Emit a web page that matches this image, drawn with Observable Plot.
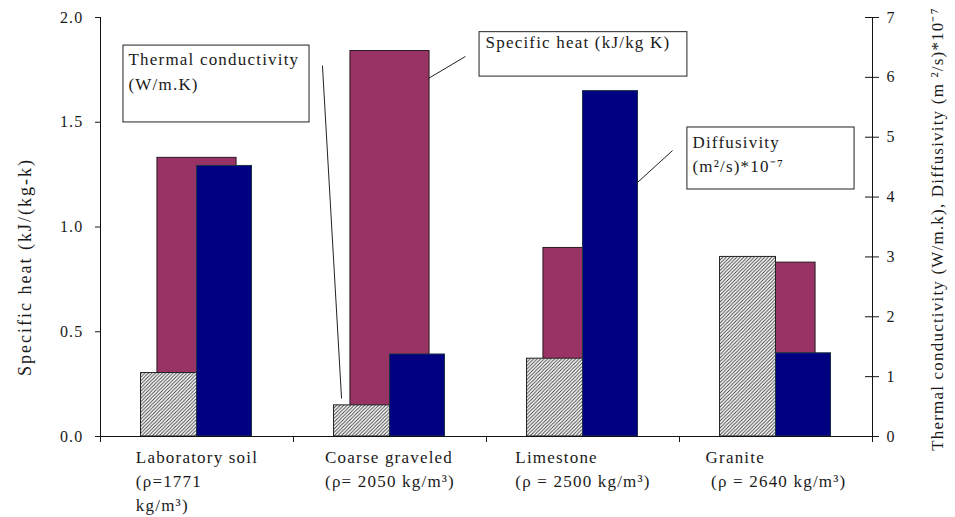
<!DOCTYPE html>
<html><head><meta charset="utf-8">
<script src="https://cdn.jsdelivr.net/npm/d3@7"></script>
<script src="https://cdn.jsdelivr.net/npm/@observablehq/plot@0.6"></script>
<style>
html,body{margin:0;padding:0;background:#fff;}
</style>
</head><body><div id="chart"></div>
<script>
// ---- data ----
const categories = ["Laboratory soil", "Coarse graveled", "Limestone", "Granite"];
const categoryLabels = [
  "Laboratory soil\n(ρ=1771\nkg/m³)",
  "Coarse graveled\n(ρ= 2050 kg/m³)",
  "Limestone\n(ρ = 2500 kg/m³)",
  "Granite\n (ρ = 2640 kg/m³)"
];
const specificHeat = [1.33, 1.84, 0.90, 0.83];   // kJ/(kg K), left axis
const conductivity = [1.06, 0.52, 1.30, 3.00];   // W/m.K, right axis
const diffusivity  = [4.52, 1.37, 5.77, 1.39];   // (m²/s)*10^-7, right axis
const leftTicks  = [0, 0.5, 1.0, 1.5, 2.0];
const rightTicks = [0, 1, 2, 3, 4, 5, 6, 7];
const leftMax = 2, rightMax = 7;
const leftTitle = "Specific heat (kJ/(kg-k)";
const rightTitle = "Thermal conductivity (W/m.k), Diffusivity (m ²/s)*10⁻⁷";

// ---- layout ----
const W = 955, H = 517, mL = 100, mR = 83, mT = 17, mB = 81;
const k = leftMax / rightMax;
const pxPerUnit = (W - mL - mR) / categories.length;
const LS = 1.2; // letter spacing px
const FS = 17;
const FONT = "'Liberation Serif', 'Times New Roman', serif";
const INK = "#1a1a1a";

const rows = categories.map((c, i) => ({
  i, c, label: categoryLabels[i],
  sh: specificHeat[i], tc: conductivity[i], df: diffusivity[i]
}));

const ctx = document.createElement("canvas").getContext("2d");
ctx.font = FS + "px 'Liberation Serif'";
const blockWidth = s => d3.max(s.split("\n"), l => ctx.measureText(l).width + l.length * LS);

const chart = Plot.plot({
  width: W, height: H,
  marginLeft: mL, marginRight: mR, marginTop: mT, marginBottom: mB,
  style: {fontFamily: FONT, fontSize: FS + "px", letterSpacing: LS + "px", color: INK, background: "white", overflow: "visible"},
  x: {type: "linear", domain: [0, categories.length], axis: null},
  y: {domain: [0, leftMax], axis: null},
  marks: [
    // bars
    Plot.rect(rows, {x1: d => d.i + 0.5 - 0.205, x2: d => d.i + 0.5 + 0.205, y1: 0, y2: "sh",
      fill: "#993366", stroke: "#2a1a22", strokeWidth: 1}),
    Plot.rect(rows, {x1: d => d.i + 0.5 - 0.29, x2: d => d.i + 0.5, y1: 0, y2: d => d.tc * k,
      fill: "url(#hatch)", stroke: "#222", strokeWidth: 1}),
    Plot.rect(rows, {x1: d => d.i + 0.5, x2: d => d.i + 0.5 + 0.285, y1: 0, y2: d => d.df * k,
      fill: "#000080", stroke: "#1b3344", strokeWidth: 1}),

    // axes
    Plot.ruleX([0], {stroke: "#111"}),
    Plot.ruleX([categories.length], {stroke: "#111"}),
    Plot.ruleY([0], {stroke: "#111"}),
    Plot.axisY({anchor: "left", ticks: leftTicks, tickFormat: d3.format(".1f"), tickSize: 5, tickPadding: 12, label: null, fontSize: 16}),
    Plot.axisY(rightTicks.map(v => v * k), {anchor: "right", tickFormat: d => Math.round(d / k), tickSize: 6, tickPadding: 8, label: null, fontSize: 16}),
    Plot.ruleY(rightTicks.map(v => v * k), {x1: categories.length, x2: categories.length, insetLeft: -7, insetRight: 0, stroke: "#111"}),
    Plot.axisX({ticks: d3.range(categories.length + 1), tickSize: 6, tickFormat: () => "", label: null}),

    // category labels
    Plot.text(rows, {x: d => d.i + 0.5 - blockWidth(d.label) / 2 / pxPerUnit, y: 0, text: "label",
      textAnchor: "start", lineAnchor: "top", dy: 9, lineHeight: 1.42, fill: INK}),

    // axis titles
    Plot.text([leftTitle], {frameAnchor: "left", textAnchor: "middle", dx: -75, dy: 40, rotate: -90, fontSize: 18, fill: INK}),
    Plot.text([rightTitle], {frameAnchor: "right", textAnchor: "middle", dx: 65, dy: 2, rotate: -90, fontSize: 17, fill: INK}),

    // annotation boxes
    Plot.rect([0], {x1: 0.119, x2: 1.083, y1: 1.499, y2: 1.866, fill: "white", stroke: "#222"}),
    Plot.text(["Thermal conductivity\n(W/m.K)"], {x: 0.145, y: 1.857, textAnchor: "start", lineAnchor: "top", lineHeight: 1.45, fill: INK}),
    Plot.link([0], {x1: 1.150, y1: 1.771, x2: 1.249, y2: 0.181, stroke: "#222"}),

    Plot.rect([0], {x1: 1.964, x2: 3.041, y1: 1.718, y2: 1.93, fill: "white", stroke: "#222"}),
    Plot.text(["Specific heat (kJ/kg K)"], {x: 1.995, y: 1.912, textAnchor: "start", lineAnchor: "top", fill: INK}),
    Plot.link([0], {x1: 1.699, y1: 1.709, x2: 1.891, y2: 1.814, stroke: "#222"}),

    Plot.rect([0], {x1: 3.041, x2: 3.907, y1: 1.179, y2: 1.475, fill: "white", stroke: "#222"}),
    Plot.text(["Diffusivity\n(m²/s)*10⁻⁷"], {x: 3.067, y: 1.458, textAnchor: "start", lineAnchor: "top", lineHeight: 1.4, fill: INK}),
    Plot.link([0], {x1: 2.777, y1: 1.208, x2: 2.964, y2: 1.365, stroke: "#222"})
  ]
});

// hatch pattern
const svg = d3.select(chart);
const pat = svg.insert("defs", ":first-child").append("pattern")
  .attr("id", "hatch").attr("patternUnits", "userSpaceOnUse").attr("width", 3.5).attr("height", 3.5);
pat.append("rect").attr("width", 3.5).attr("height", 3.5).attr("fill", "white");
pat.append("path").attr("d", "M-1,1 l2,-2 M0,3.5 l3.5,-3.5 M2.5,4.5 l2,-2").attr("stroke", "#3a3a3a").attr("stroke-width", 0.9);

// wider tracking on the left axis title
svg.selectAll("text").filter(function () { return this.textContent === leftTitle; }).style("letter-spacing", "2px");

document.getElementById("chart").appendChild(chart);
</script>
</body></html>
